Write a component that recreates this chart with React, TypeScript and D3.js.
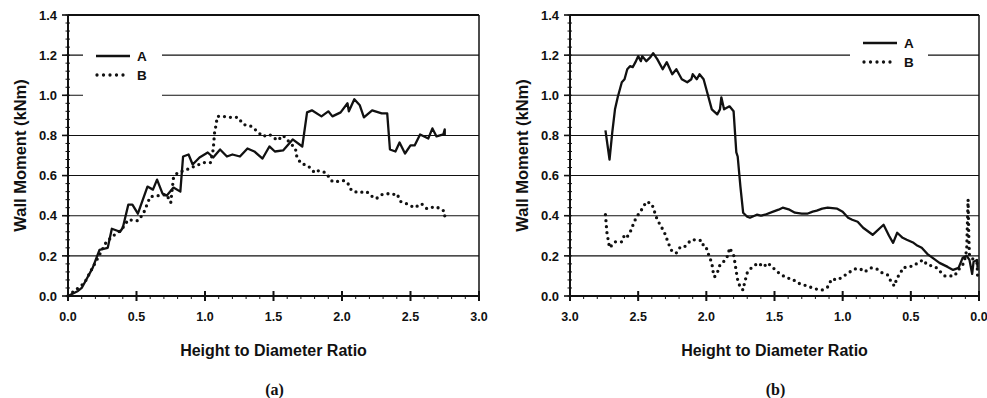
import React from 'react';
import * as d3 from 'd3';

// ---- data ----
const yTicks = [0, 0.2, 0.4, 0.6, 0.8, 1.0, 1.2, 1.4];
const xTicks = [0, 0.5, 1.0, 1.5, 2.0, 2.5, 3.0];
const seriesNames = ['A', 'B'];
const panelLabels = ['(a)', '(b)'];
const axisTitleX = 'Height to Diameter Ratio';
const axisTitleY = 'Wall Moment (kNm)';

// panel (a): [ratio, moment]
const leftA: [number, number][] = [
  [0, 0], [0.073, 0.025], [0.1, 0.04], [0.14, 0.09], [0.18, 0.14], [0.23, 0.23], [0.29, 0.24],
  [0.32, 0.335], [0.38, 0.32], [0.4, 0.34], [0.44, 0.455], [0.47, 0.455], [0.51, 0.41],
  [0.58, 0.545], [0.62, 0.53], [0.65, 0.58], [0.69, 0.51], [0.72, 0.5], [0.77, 0.54], [0.82, 0.52],
  [0.84, 0.695], [0.88, 0.705], [0.91, 0.655], [0.96, 0.69], [1.02, 0.715], [1.06, 0.69],
  [1.11, 0.73], [1.16, 0.695], [1.2, 0.705], [1.255, 0.695], [1.31, 0.735], [1.36, 0.72],
  [1.42, 0.685], [1.47, 0.745], [1.51, 0.72], [1.57, 0.725], [1.64, 0.78], [1.71, 0.745],
  [1.745, 0.915], [1.78, 0.925], [1.85, 0.895], [1.9, 0.92], [1.93, 0.895], [1.99, 0.915],
  [2.04, 0.96], [2.05, 0.92], [2.09, 0.98], [2.13, 0.95], [2.16, 0.89], [2.22, 0.925],
  [2.29, 0.91], [2.33, 0.91], [2.35, 0.73], [2.39, 0.72], [2.42, 0.765], [2.46, 0.71],
  [2.5, 0.75], [2.53, 0.75], [2.57, 0.805], [2.63, 0.785], [2.66, 0.835], [2.69, 0.795],
  [2.74, 0.805], [2.75, 0.83], [2.75, 0.8],
];
const leftB: [number, number][] = [
  [0, 0], [0.12, 0.065], [0.21, 0.18], [0.28, 0.27], [0.34, 0.305], [0.39, 0.33], [0.44, 0.38],
  [0.51, 0.375], [0.55, 0.41], [0.6, 0.495], [0.72, 0.505], [0.75, 0.465], [0.77, 0.59],
  [0.8, 0.615], [0.85, 0.625], [0.99, 0.665], [1.04, 0.665], [1.06, 0.73], [1.07, 0.815],
  [1.08, 0.85], [1.09, 0.895], [1.13, 0.895], [1.18, 0.89], [1.24, 0.89], [1.28, 0.855],
  [1.34, 0.845], [1.39, 0.815], [1.42, 0.795], [1.47, 0.805], [1.53, 0.775], [1.57, 0.8],
  [1.66, 0.735], [1.67, 0.695], [1.7, 0.66], [1.75, 0.65], [1.8, 0.615], [1.82, 0.625],
  [1.88, 0.615], [1.93, 0.57], [1.96, 0.57], [2.01, 0.575], [2.04, 0.565], [2.07, 0.525],
  [2.12, 0.515], [2.18, 0.52], [2.23, 0.49], [2.25, 0.485], [2.29, 0.505], [2.34, 0.51],
  [2.37, 0.505], [2.4, 0.51], [2.43, 0.47], [2.47, 0.46], [2.53, 0.44], [2.58, 0.46],
  [2.62, 0.435], [2.68, 0.445], [2.72, 0.435], [2.75, 0.42], [2.75, 0.395],
];

// panel (b): [ratio, moment], ratio axis runs 3.0 -> 0.0
const rightA: [number, number][] = [
  [2.74, 0.825], [2.71, 0.68], [2.69, 0.815], [2.67, 0.93], [2.65, 0.99], [2.62, 1.065],
  [2.6, 1.08], [2.58, 1.13], [2.56, 1.145], [2.54, 1.14], [2.52, 1.165], [2.5, 1.195],
  [2.48, 1.17], [2.47, 1.195], [2.44, 1.17], [2.41, 1.19], [2.39, 1.21], [2.36, 1.18],
  [2.32, 1.13], [2.29, 1.165], [2.25, 1.105], [2.22, 1.13], [2.18, 1.08], [2.14, 1.065],
  [2.11, 1.08], [2.1, 1.105], [2.07, 1.08], [2.05, 1.105], [2.02, 1.08], [2.0, 1.03],
  [1.96, 0.93], [1.92, 0.905], [1.9, 0.93], [1.89, 0.99], [1.87, 0.93], [1.83, 0.945],
  [1.8, 0.92], [1.78, 0.715], [1.77, 0.695], [1.75, 0.545], [1.74, 0.48], [1.73, 0.415],
  [1.7, 0.395], [1.68, 0.39], [1.63, 0.405], [1.6, 0.4], [1.57, 0.405], [1.51, 0.42],
  [1.47, 0.43], [1.44, 0.44], [1.39, 0.43], [1.35, 0.415], [1.3, 0.41], [1.26, 0.41],
  [1.22, 0.42], [1.19, 0.425], [1.15, 0.435], [1.11, 0.44], [1.04, 0.435], [1.0, 0.42],
  [0.96, 0.39], [0.93, 0.38], [0.89, 0.37], [0.85, 0.34], [0.81, 0.32], [0.78, 0.305],
  [0.7, 0.355], [0.66, 0.3], [0.63, 0.265], [0.6, 0.315], [0.56, 0.29], [0.53, 0.28],
  [0.48, 0.265], [0.45, 0.25], [0.42, 0.24], [0.38, 0.21], [0.34, 0.19], [0.29, 0.165],
  [0.23, 0.145], [0.19, 0.13], [0.15, 0.14], [0.12, 0.19], [0.09, 0.2], [0.07, 0.18],
  [0.05, 0.11], [0.04, 0.17], [0.015, 0.18], [0.01, 0.14],
];
const rightB: [number, number][] = [
  [2.74, 0.405], [2.735, 0.365], [2.73, 0.32], [2.72, 0.28], [2.71, 0.24], [2.67, 0.27],
  [2.62, 0.27], [2.6, 0.305], [2.58, 0.295], [2.55, 0.33], [2.53, 0.37], [2.5, 0.405],
  [2.47, 0.435], [2.44, 0.47], [2.4, 0.46], [2.38, 0.42], [2.36, 0.38], [2.33, 0.345],
  [2.3, 0.305], [2.28, 0.265], [2.25, 0.22], [2.22, 0.215], [2.19, 0.245], [2.16, 0.245],
  [2.11, 0.28], [2.07, 0.28], [2.03, 0.275], [2.02, 0.245], [2.0, 0.24], [1.98, 0.2],
  [1.96, 0.165], [1.95, 0.12], [1.94, 0.095], [1.92, 0.115], [1.9, 0.155], [1.86, 0.18],
  [1.84, 0.205], [1.83, 0.24], [1.8, 0.205], [1.79, 0.165], [1.78, 0.12], [1.77, 0.08],
  [1.75, 0.04], [1.73, 0.03], [1.72, 0.065], [1.7, 0.115], [1.67, 0.14], [1.62, 0.165],
  [1.58, 0.145], [1.55, 0.165], [1.51, 0.14], [1.46, 0.11], [1.41, 0.09], [1.37, 0.085],
  [1.33, 0.065], [1.26, 0.05], [1.2, 0.035], [1.15, 0.03], [1.11, 0.045], [1.08, 0.085],
  [1.04, 0.08], [1.0, 0.095], [0.96, 0.115], [0.91, 0.135], [0.87, 0.135], [0.84, 0.12],
  [0.79, 0.14], [0.75, 0.135], [0.71, 0.115], [0.67, 0.105], [0.64, 0.065], [0.62, 0.05],
  [0.6, 0.095], [0.58, 0.105], [0.56, 0.14], [0.52, 0.145], [0.48, 0.15], [0.45, 0.165],
  [0.41, 0.18], [0.38, 0.155], [0.34, 0.15], [0.31, 0.14], [0.29, 0.125], [0.25, 0.1],
  [0.21, 0.1], [0.18, 0.1], [0.14, 0.14], [0.11, 0.165], [0.09, 0.23], [0.085, 0.36],
  [0.08, 0.48], [0.075, 0.3], [0.07, 0.2], [0.015, 0.165], [0.012, 0.13], [0.01, 0.09],
];

const SANS = '"Liberation Sans", Arial, Helvetica, sans-serif';
const SERIF = '"Liberation Serif", "Times New Roman", serif';
const INK = '#111';

type PanelProps = {
  x0: number; x1: number; xDomain: [number, number];
  a: [number, number][]; b: [number, number][];
  label: string; yTitleX: number;
  legend: { x: number; y: number; w: number; h: number; lineX: number; lineY: number };
};

const Panel = ({ x0, x1, xDomain, a, b, label, yTitleX, legend }: PanelProps) => {
  const top = 15, bottom = 296;
  const x = d3.scaleLinear().domain(xDomain).range([x0, x1]);
  const y = d3.scaleLinear().domain([0, 1.4]).range([bottom, top]);
  const line = d3.line<[number, number]>().x(d => x(d[0])).y(d => y(d[1]));
  const minorY = d3.range(0, 36).map(i => i * 0.04);
  const minorX = d3.range(0, 31).map(i => i * 0.1);
  const cx = (x0 + x1) / 2;

  return (
    <g>
      {/* gridlines */}
      {yTicks.map(t => (
        <line key={'g' + t} x1={x0} x2={x1} y1={y(t)} y2={y(t)} stroke={INK} strokeWidth={t === 0 || t === 1.4 ? 1.8 : 1.1} />
      ))}
      {/* frame */}
      <line x1={x0} x2={x0} y1={top} y2={bottom} stroke={INK} strokeWidth={2} />
      <line x1={x1} x2={x1} y1={top} y2={bottom} stroke={INK} strokeWidth={1.5} />
      {/* y ticks */}
      {minorY.map(t => (
        <line key={'my' + t} x1={x0 - 2.5} x2={x0 + 2} y1={y(t)} y2={y(t)} stroke={INK} strokeWidth={1} />
      ))}
      {yTicks.map(t => (
        <g key={'y' + t}>
          <line x1={x0 - 6} x2={x0} y1={y(t)} y2={y(t)} stroke={INK} strokeWidth={1.6} />
          <text x={x0 - 11} y={y(t)} dy="0.36em" textAnchor="end" fontFamily={SANS} fontWeight="bold" fontSize={13} fill={INK}>
            {t.toFixed(1)}
          </text>
        </g>
      ))}
      {/* x ticks */}
      {minorX.map(t => (
        <line key={'mx' + t} x1={x(t)} x2={x(t)} y1={bottom} y2={bottom + 3} stroke={INK} strokeWidth={1} />
      ))}
      {xTicks.map(t => (
        <g key={'x' + t}>
          <line x1={x(t)} x2={x(t)} y1={bottom - 5} y2={bottom + 5} stroke={INK} strokeWidth={2} />
          <text x={x(t)} y={316} dy="0.36em" textAnchor="middle" fontFamily={SANS} fontWeight="bold" fontSize={12.5} fill={INK}>
            {t.toFixed(1)}
          </text>
        </g>
      ))}
      {/* series */}
      <path d={line(b) || ''} fill="none" stroke={INK} strokeWidth={3.3} strokeLinecap="round" strokeDasharray="0 6" />
      <path d={line(a) || ''} fill="none" stroke={INK} strokeWidth={2.3} strokeLinejoin="round" />
      {/* legend */}
      <rect x={legend.x} y={legend.y} width={legend.w} height={legend.h} fill="#fff" />
      <line x1={legend.lineX} x2={legend.lineX + 34} y1={legend.lineY} y2={legend.lineY} stroke={INK} strokeWidth={2.3} />
      <line x1={legend.lineX + 1} x2={legend.lineX + 29} y1={legend.lineY + 19} y2={legend.lineY + 19} stroke={INK} strokeWidth={3.3} strokeLinecap="round" strokeDasharray="0 6.5" />
      {seriesNames.map((s, i) => (
        <text key={s} x={legend.lineX + 41} y={legend.lineY + i * 19} dy="0.36em" fontFamily={SANS} fontWeight="bold" fontSize={13.5} fill={INK}>
          {s}
        </text>
      ))}
      {/* titles */}
      <text transform={`translate(${yTitleX},${(top + bottom) / 2}) rotate(-90)`} textAnchor="middle" dy="0.36em" fontFamily={SANS} fontWeight="bold" fontSize={16.5} fill={INK}>
        {axisTitleY}
      </text>
      <text x={cx} y={350} dy="0.36em" textAnchor="middle" fontFamily={SANS} fontWeight="bold" fontSize={16} fill={INK}>
        {axisTitleX}
      </text>
      <text x={cx + 1} y={389} dy="0.36em" textAnchor="middle" fontFamily={SERIF} fontWeight="bold" fontSize={16} fill={INK}>
        {label}
      </text>
    </g>
  );
};

export default function App() {
  return (
    <svg width={987} height={398} style={{ position: 'absolute', left: 0, top: 0, background: '#fff' }}>
      <rect width={987} height={398} fill="#fff" />
      <Panel
        x0={68} x1={479} xDomain={[0, 3]} a={leftA} b={leftB} label={panelLabels[0]} yTitleX={20}
        legend={{ x: 83, y: 44, w: 79, h: 58, lineX: 96, lineY: 56 }}
      />
      <Panel
        x0={570} x1={979} xDomain={[3, 0]} a={rightA} b={rightB} label={panelLabels[1]} yTitleX={522}
        legend={{ x: 850, y: 34, w: 78, h: 38, lineX: 863, lineY: 43 }}
      />
    </svg>
  );
}
